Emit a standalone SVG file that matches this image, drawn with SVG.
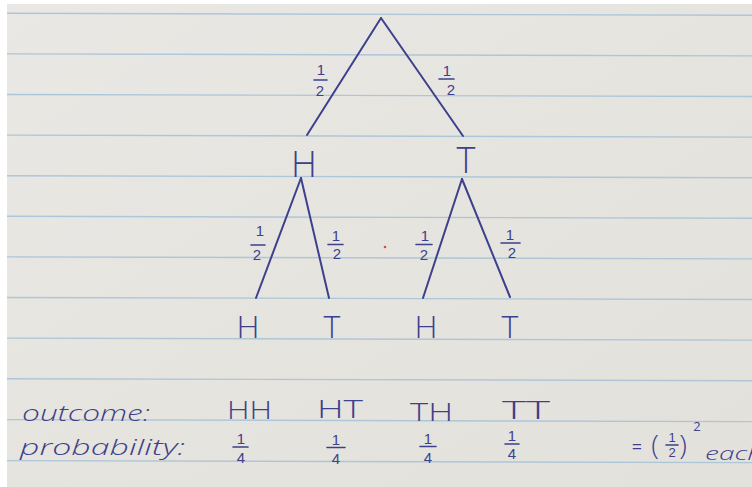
<svg xmlns="http://www.w3.org/2000/svg" width="752" height="487" viewBox="0 0 752 487">
  <defs>
    <linearGradient id="paper" x1="0" y1="0" x2="1" y2="1">
      <stop offset="0" stop-color="#e9e8e4"/>
      <stop offset="0.5" stop-color="#e6e4df"/>
      <stop offset="1" stop-color="#e3e1db"/>
    </linearGradient>
    <style>
      .rule { stroke: #adc6d8; stroke-width: 1.4; }
      .edge { stroke: #3d408c; stroke-width: 2; stroke-linecap: round; fill: none; }
      .bar { stroke: #3d408c; stroke-width: 1.6; stroke-linecap: round; }
      .ink { fill: #3d408c; font-family: "Open Sans", "Liberation Sans", sans-serif; }
      .big { font-size: 36px; font-weight: 300; text-anchor: middle; }
      .leaf { font-size: 32px; font-weight: 300; text-anchor: middle; }
      .num { font-family: "Liberation Sans", Arial, sans-serif; font-size: 15px; text-anchor: middle; }
      .word { font-size: 22px; font-weight: 300; font-style: italic; }
      .pair { font-size: 25px; font-weight: 300; }
    </style>
  </defs>

  <!-- paper -->
  <rect x="0" y="0" width="752" height="487" fill="#ffffff"/>
  <rect x="7" y="4" width="745" height="483" fill="url(#paper)"/>
  <g id="rules">
    <line class="rule" x1="7" y1="13.3" x2="752" y2="15.3"/>
    <line class="rule" x1="7" y1="53.9" x2="752" y2="55.9"/>
    <line class="rule" x1="7" y1="94.5" x2="752" y2="96.5"/>
    <line class="rule" x1="7" y1="135.1" x2="752" y2="137.1"/>
    <line class="rule" x1="7" y1="175.7" x2="752" y2="177.7"/>
    <line class="rule" x1="7" y1="216.3" x2="752" y2="218.3"/>
    <line class="rule" x1="7" y1="256.9" x2="752" y2="258.9"/>
    <line class="rule" x1="7" y1="297.5" x2="752" y2="299.5"/>
    <line class="rule" x1="7" y1="338.1" x2="752" y2="340.1"/>
    <line class="rule" x1="7" y1="378.7" x2="752" y2="380.7"/>
    <line class="rule" x1="7" y1="419.6" x2="752" y2="421.6"/>
    <line class="rule" x1="7" y1="460.6" x2="752" y2="462.6"/>
  </g>

  <!-- connectors -->
  <g id="connectors">
    <line class="edge" x1="381" y1="18" x2="307" y2="135"/>
    <line class="edge" x1="381" y1="18" x2="463" y2="136"/>
    <line class="edge" x1="301" y1="178" x2="256" y2="298"/>
    <line class="edge" x1="301" y1="178" x2="329" y2="298"/>
    <line class="edge" x1="462" y1="179" x2="423" y2="298"/>
    <line class="edge" x1="462" y1="179" x2="510" y2="297"/>
  </g>

  <!-- edge labels -->
  <g id="edge-labels">
    <g id="lbl-root-H">
      <text class="ink num"><tspan x="321" y="75">1</tspan><tspan x="320" y="96">2</tspan></text>
      <line class="bar" x1="314" y1="80" x2="327" y2="80"/>
    </g>
    <g id="lbl-root-T">
      <text class="ink num"><tspan x="447" y="76">1</tspan><tspan x="451" y="95">2</tspan></text>
      <line class="bar" x1="439" y1="79" x2="454" y2="79"/>
    </g>
    <g id="lbl-H-H">
      <text class="ink num"><tspan x="260" y="236">1</tspan><tspan x="257" y="260">2</tspan></text>
      <line class="bar" x1="251" y1="245" x2="265" y2="245"/>
    </g>
    <g id="lbl-H-T">
      <text class="ink num"><tspan x="336" y="241">1</tspan><tspan x="337" y="259">2</tspan></text>
      <line class="bar" x1="328" y1="244.5" x2="343" y2="244.5"/>
    </g>
    <g id="lbl-T-H">
      <text class="ink num"><tspan x="425" y="241">1</tspan><tspan x="424" y="260">2</tspan></text>
      <line class="bar" x1="416" y1="244.5" x2="432" y2="244.5"/>
    </g>
    <g id="lbl-T-T">
      <text class="ink num"><tspan x="510" y="240">1</tspan><tspan x="512" y="258">2</tspan></text>
      <line class="bar" x1="501" y1="243" x2="520" y2="243"/>
    </g>
  </g>

  <!-- nodes -->
  <g id="node-root">
    <circle cx="381" cy="18" r="0.1" fill="#3d408c"/>
  </g>
  <g id="node-H">
    <text class="ink big" x="304" y="177">H</text>
  </g>
  <g id="node-T">
    <text class="ink big" x="466" y="173">T</text>
  </g>
  <g id="node-HH">
    <text class="ink leaf" x="248" y="338">H</text>
  </g>
  <g id="node-HT">
    <text class="ink leaf" x="332" y="338">T</text>
  </g>
  <g id="node-TH">
    <text class="ink leaf" x="426" y="338">H</text>
  </g>
  <g id="node-TT">
    <text class="ink leaf" x="510" y="338">T</text>
  </g>

  <!-- stray red mark -->
  <circle cx="385" cy="247" r="1.3" fill="#d24a4a"/>

  <!-- table -->
  <g id="table">
    <text class="ink word" x="22" y="421" textLength="128" lengthAdjust="spacingAndGlyphs">outcome:</text>
    <text class="ink word" x="20" y="455" textLength="165" lengthAdjust="spacingAndGlyphs">probability:</text>

    <text class="ink pair" x="227" y="419" textLength="45" lengthAdjust="spacingAndGlyphs">HH</text>
    <text class="ink pair" x="317" y="418" textLength="46" lengthAdjust="spacingAndGlyphs">HT</text>
    <text class="ink pair" x="410" y="421" textLength="43" lengthAdjust="spacingAndGlyphs">TH</text>
    <text class="ink pair" x="502" y="419" textLength="48" lengthAdjust="spacingAndGlyphs">TT</text>

    <text class="ink num"><tspan x="241" y="444">1</tspan><tspan x="241" y="463">4</tspan></text>
    <line class="bar" x1="233" y1="447" x2="248" y2="447"/>

    <text class="ink num"><tspan x="336" y="445">1</tspan><tspan x="336" y="464">4</tspan></text>
    <line class="bar" x1="327" y1="447.5" x2="345" y2="447.5"/>

    <text class="ink num"><tspan x="428" y="444">1</tspan><tspan x="428" y="463">4</tspan></text>
    <line class="bar" x1="420" y1="446.5" x2="436" y2="446.5"/>

    <text class="ink num"><tspan x="512" y="441">1</tspan><tspan x="512" y="458.5">4</tspan></text>
    <line class="bar" x1="505" y1="444" x2="519" y2="444"/>

    <text class="ink" x="637" y="453" font-size="18" text-anchor="middle">=</text>
    <text class="ink" x="655" y="455" font-size="28" font-weight="300" text-anchor="middle">(</text>
    <text class="ink num" style="font-size:13px"><tspan x="672" y="442">1</tspan><tspan x="672" y="457">2</tspan></text>
    <line class="bar" x1="666" y1="445" x2="678" y2="445"/>
    <text class="ink" x="683" y="455" font-size="28" font-weight="300" text-anchor="middle">)</text>
    <text class="ink" x="697" y="431" font-size="13" text-anchor="middle">2</text>
    <text class="ink word" x="705" y="460" textLength="58" lengthAdjust="spacingAndGlyphs" style="font-size:18px">each</text>
  </g>
</svg>
